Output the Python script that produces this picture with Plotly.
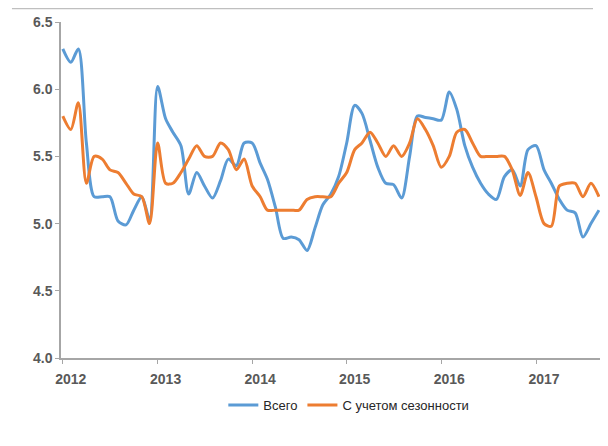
import pandas as pd
import plotly.graph_objects as go

# monthly, Jan 2012 - Sep 2017
months = pd.date_range("2012-01-01", periods=69, freq="MS")

total = [
    6.30, 6.20, 6.30, 5.60, 5.20, 5.20, 5.20, 5.02, 4.99, 5.10, 5.20, 5.03,
    6.02, 5.78, 5.68, 5.58, 5.22, 5.38, 5.28, 5.19, 5.32, 5.48, 5.43, 5.60,
    5.60, 5.45, 5.33, 5.12, 4.89, 4.90, 4.88, 4.80, 4.97, 5.14, 5.22, 5.35,
    5.60, 5.88, 5.82, 5.62, 5.42, 5.30, 5.29, 5.19, 5.50, 5.80, 5.79, 5.78,
    5.77, 5.98, 5.85, 5.58, 5.42, 5.30, 5.22, 5.18, 5.35, 5.40, 5.28, 5.55,
    5.58, 5.40, 5.30, 5.18, 5.10, 5.08, 4.90, 5.00, 5.10,
]

seasonal = [
    5.80, 5.70, 5.90, 5.30, 5.50, 5.48, 5.40, 5.38, 5.30, 5.22, 5.20, 5.00,
    5.60, 5.30, 5.30, 5.38, 5.48, 5.58, 5.50, 5.50, 5.60, 5.55, 5.40, 5.48,
    5.28, 5.20, 5.10, 5.10, 5.10, 5.10, 5.10, 5.18, 5.20, 5.20, 5.20, 5.30,
    5.38, 5.55, 5.60, 5.68, 5.60, 5.50, 5.58, 5.50, 5.60, 5.78, 5.70, 5.58,
    5.42, 5.50, 5.68, 5.70, 5.60, 5.50, 5.50, 5.50, 5.50, 5.40, 5.21, 5.38,
    5.20, 5.00, 4.98, 5.28, 5.30, 5.30, 5.20, 5.30, 5.20,
]

series_names = ["Всего", "С учетом сезонности"]
colors = ["#5B9BD5", "#ED7D31"]

fig = go.Figure()
for name, vals, col in zip(series_names, [total, seasonal], colors):
    fig.add_trace(
        go.Scatter(
            x=months,
            y=vals,
            name=name,
            mode="lines",
            line=dict(color=col, width=3, shape="spline", smoothing=0.8),
        )
    )

tick_font = dict(family="Liberation Sans", size=14, color="#595959", weight="bold")

# page body adds 8px around the figure, so size/margins are trimmed by that
fig.update_layout(
    width=592,
    height=430,
    margin=dict(l=53, r=0, t=14, b=80),
    paper_bgcolor="white",
    plot_bgcolor="white",
    showlegend=True,
    legend=dict(
        orientation="h",
        x=0.534,
        xanchor="center",
        y=-0.14,
        yanchor="middle",
        font=dict(family="Liberation Sans", size=13, color="#262626"),
        itemwidth=30,
    ),
    xaxis=dict(
        type="date",
        range=["2011-12-25", "2017-09-05"],
        tick0="2012-01-01",
        dtick="M12",
        tickformat="%Y",
        ticklabelshift=8,
        ticklabelstandoff=3,
        ticks="outside",
        ticklen=4,
        tickcolor="#A6A6A6",
        showline=True,
        linecolor="#A6A6A6",
        linewidth=1.5,
        showgrid=False,
        zeroline=False,
        tickfont=tick_font,
    ),
    yaxis=dict(
        range=[4.0, 6.5],
        dtick=0.5,
        tickformat=".1f",
        ticks="outside",
        ticklen=4,
        tickcolor="#A6A6A6",
        showline=True,
        linecolor="#A6A6A6",
        linewidth=1.5,
        showgrid=False,
        zeroline=False,
        tickfont=tick_font,
    ),
)

# thin rule along the top of the picture
fig.add_shape(
    type="line",
    xref="paper",
    yref="paper",
    x0=-0.091,
    x1=0.987,
    y0=1.040,
    y1=1.040,
    line=dict(color="#BFBFBF", width=1.5),
)

fig.write_html("out.html")
